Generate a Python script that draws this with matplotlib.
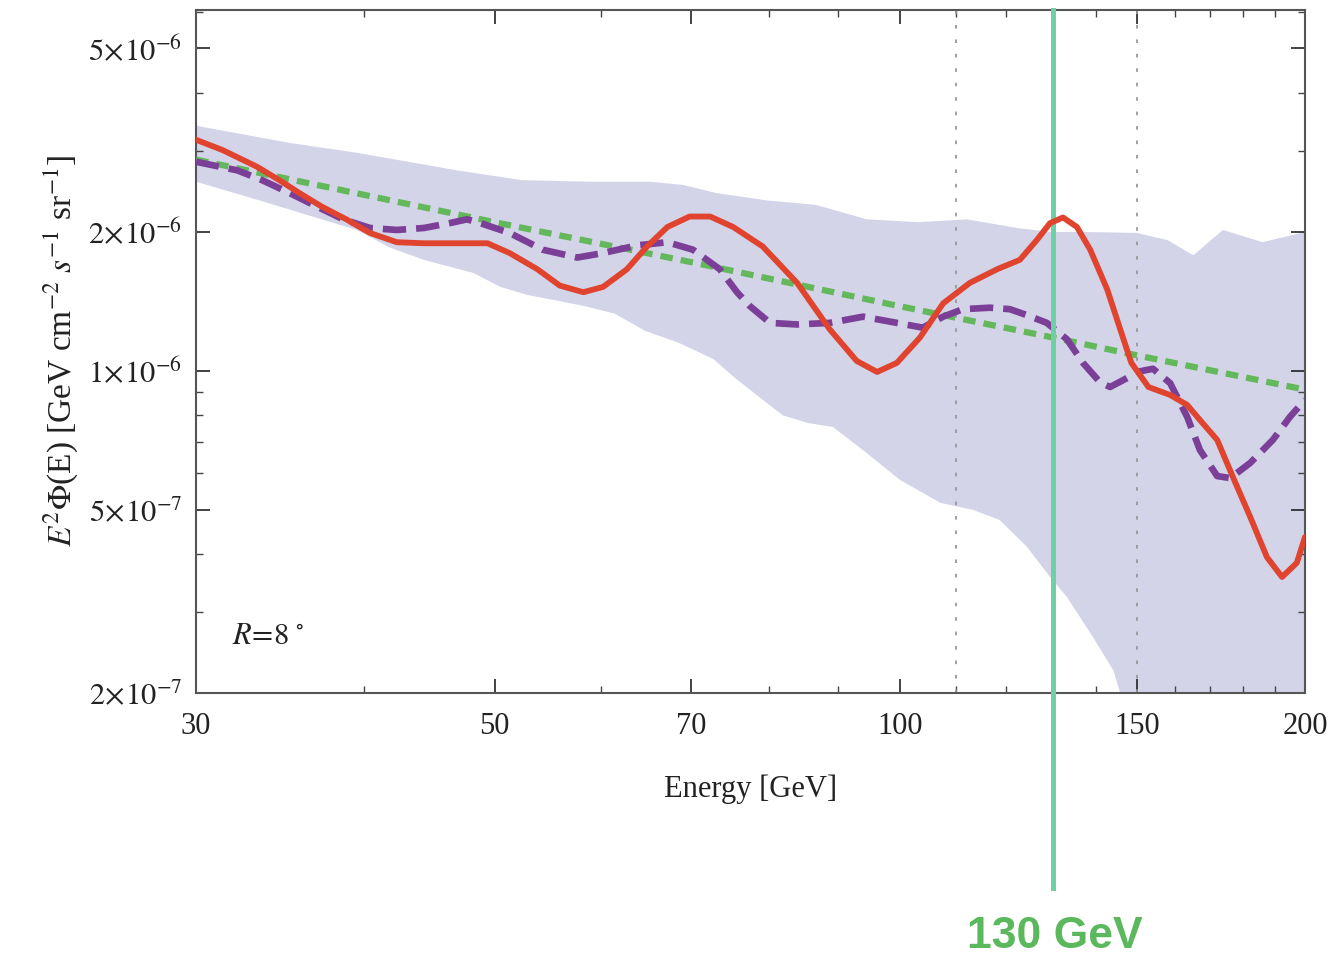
import numpy as np
import matplotlib
matplotlib.use("Agg")
import matplotlib.pyplot as plt
from matplotlib.ticker import FixedLocator, NullFormatter, LogLocator

plt.rcParams['font.family'] = 'serif'
plt.rcParams['font.serif'] = ['Liberation Serif', 'DejaVu Serif']
plt.rcParams['mathtext.fontset'] = 'stix'

# data (energy in GeV, flux in units of 1e-6)
red_E = [30, 31.4, 33.3, 34.6, 35.8, 37.2, 38.8, 40.4, 42.3, 44.3, 46.9, 49.4, 51.3,
         53.8, 55.9, 58.2, 60.2, 62.7, 64.9, 67.2, 69.8, 72.3, 75.2, 79.1, 83.9,
         88.7, 92.9, 96.2, 99.5, 103.5, 107.7, 112.7, 118.1, 122.8, 126.4, 129.3,
         132.2, 135.4, 138.5, 142.6, 145.8, 148.6, 153.0, 158.8, 163.5, 167.1,
         172.1, 176.8, 182.1, 187.4, 192.3, 197.2, 200]
red_V = [3.17, 3.01, 2.77, 2.59, 2.43, 2.27, 2.13, 1.99, 1.90, 1.89, 1.89, 1.89, 1.80,
         1.66, 1.53, 1.48, 1.52, 1.66, 1.86, 2.05, 2.16, 2.16, 2.05, 1.86, 1.55,
         1.23, 1.05, 0.994, 1.04, 1.18, 1.40, 1.55, 1.66, 1.74, 1.92, 2.09,
         2.15, 2.05, 1.83, 1.50, 1.23, 1.04, 0.922, 0.886, 0.843, 0.782,
         0.708, 0.588, 0.482, 0.394, 0.357, 0.383, 0.436]

purple_E = [30, 32.2, 33.6, 35.2, 36.9, 38.6, 40.4, 42.3, 44.3, 46.3, 47.7, 48.8, 51.3,
            54.3, 57.6, 60.2, 63.8, 67.2, 70.2, 73.5, 75.7, 77.4, 80.1, 83.9, 88.7,
            93.9, 99.5, 104.0, 107.7, 111.4, 116.7, 120.7, 124.3, 128.6, 133.1,
            136.8, 140.9, 143.3, 147.5, 150, 154.2, 158.8, 163.5, 167.1, 172.1,
            176.0, 182.1, 189.3, 194.9, 200]
purple_V = [2.84, 2.72, 2.59, 2.43, 2.27, 2.13, 2.04, 2.02, 2.04, 2.09, 2.13, 2.09, 1.99,
            1.83, 1.76, 1.80, 1.87, 1.90, 1.83, 1.66, 1.48, 1.38, 1.27, 1.26, 1.27,
            1.31, 1.27, 1.24, 1.31, 1.36, 1.37, 1.36, 1.32, 1.27, 1.17,
            1.04, 0.943, 0.922, 0.964, 0.994, 1.01, 0.940, 0.794, 0.673, 0.591,
            0.585, 0.631, 0.708, 0.794, 0.865]

green_E = [30, 50, 70, 100, 130, 150, 200]
green_V = [2.87, 2.10, 1.72, 1.38, 1.18, 1.08, 0.91]

band_hi_E = [30, 35.2, 39.5, 46.9, 52.4, 58.8, 65.2, 69.0, 73.0, 79.7, 86.6, 94.5, 103.1,
             112.2, 122.2, 129.3, 136.8, 150, 158.1, 165.2, 173.8, 186.0, 200]
band_hi_V = [3.40, 3.12, 2.97, 2.72, 2.59, 2.57, 2.57, 2.53, 2.43, 2.34, 2.29, 2.13, 2.10,
             2.13, 2.04, 2.00, 2.00, 1.99, 1.92, 1.78, 2.02, 1.90, 2.00]
band_lo_E = [30, 33.3, 37.2, 39.5, 41.8, 44.3, 48.2, 50.5, 52.9, 55.6, 58.4, 61.4, 64.7,
             68.5, 72.7, 75.3, 79.7, 81.9, 85.5, 89.2, 94.5, 100, 107.2, 113.4, 118.7,
             124.3, 129.3, 133.1, 139.2, 144.1, 145.8, 150, 200]
band_lo_V = [2.57, 2.35, 2.13, 2.02, 1.85, 1.74, 1.63, 1.52, 1.46, 1.42, 1.38, 1.33, 1.22,
             1.15, 1.06, 0.969, 0.85, 0.80, 0.77, 0.755, 0.663, 0.580, 0.517, 0.499, 0.474,
             0.415, 0.357, 0.323, 0.264, 0.224, 0.200, 0.15, 0.10]

window_E = [110, 150]
line_E = 130

x_ticks = [30, 50, 70, 100, 150, 200]
x_minor = [40, 60, 80, 90, 110, 120, 130, 140, 160, 170, 180, 190]
y_ticks = [2e-7, 5e-7, 1e-6, 2e-6, 5e-6]
y_labels = [r'$2\!\times\!10^{-7}$', r'$5\!\times\!10^{-7}$', r'$1\!\times\!10^{-6}$',
            r'$2\!\times\!10^{-6}$', r'$5\!\times\!10^{-6}$']

scale = 1e-6

fig = plt.figure(figsize=(13.33, 9.58), dpi=100)
ax = fig.add_axes([0.147, 0.2766, 0.832, 0.713])
ax.set_xscale('log')
ax.set_yscale('log')

# uncertainty band
poly_E = np.concatenate([band_hi_E, band_lo_E[::-1]])
poly_V = np.concatenate([band_hi_V, band_lo_V[::-1]]) * scale
ax.fill(poly_E, poly_V, color='#d3d4e8', lw=0, zorder=1)

for e in window_E:
    ax.axvline(e, color='#999999', lw=1.3, ls=(0, (2, 6)), zorder=2)

ax.plot(green_E, np.array(green_V) * scale, color='#62b85a', lw=4.5,
        dashes=(2.0, 1.3), zorder=3)
ax.plot(purple_E, np.array(purple_V) * scale, color='#7b3f98', lw=4.8,
        dashes=(3.5, 1.5), dash_joinstyle='round', zorder=4)
ax.plot([line_E, line_E], [1, -0.2855], transform=ax.get_xaxis_transform(),
        color='#6fcfa5', lw=3.6, clip_on=False, zorder=4.5)
ax.plot(red_E, np.array(red_V) * scale, color='#e0442f', lw=4.2,
        solid_joinstyle='round', solid_capstyle='round', zorder=5)

ax.set_xlim(30, 200)
ax.set_ylim(2e-7, 6.06e-6)

ax.xaxis.set_major_locator(FixedLocator(x_ticks))
ax.xaxis.set_minor_locator(FixedLocator(x_minor))
ax.set_xticklabels([str(t) for t in x_ticks])
ax.xaxis.set_minor_formatter(NullFormatter())
ax.yaxis.set_major_locator(FixedLocator(y_ticks))
ax.set_yticklabels(y_labels)
ax.yaxis.set_minor_locator(LogLocator(subs=np.arange(1, 10)))
ax.yaxis.set_minor_formatter(NullFormatter())

ax.tick_params(which='both', direction='in', top=True, right=True, color='#444444')
ax.tick_params(which='major', length=10, width=1.2, labelsize=22, pad=14, colors='#222222')
ax.tick_params(which='minor', length=5, width=1.0)
ax.tick_params(axis='y', which='major', pad=10)
for s in ax.spines.values():
    s.set_color('#555555')
    s.set_linewidth(1.5)

ax.set_xlabel('Energy [GeV]', fontsize=22, labelpad=24, color='#222222')
ax.set_ylabel(r'$E^2\Phi$(E) [GeV cm$^{-2}$ $s^{-1}$ sr$^{-1}$]', fontsize=24,
              labelpad=6, color='#222222')

ax.text(0.0325, 0.083, r'$R\!=\!8\;^{\circ}$', transform=ax.transAxes, fontsize=22,
        va='center', ha='left', color='#222222')

fig.text(0.791, 0.022, '130 GeV', family='Liberation Sans', fontweight='bold',
         fontsize=32, color='#5cb85c', ha='center', va='center')

fig.savefig('out.png', dpi=100)
